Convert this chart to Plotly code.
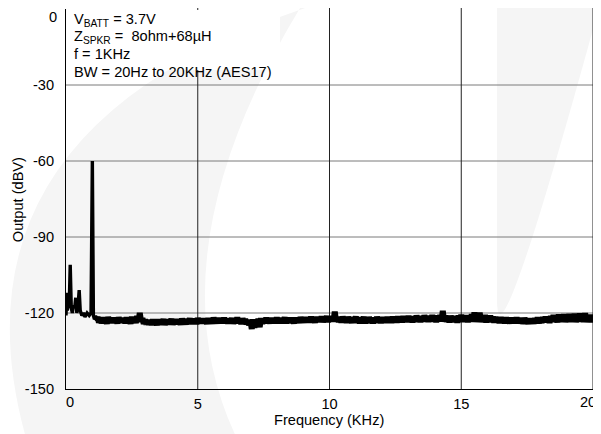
import plotly.graph_objects as go

# ---------------- data ----------------
freq_low = [0.00, 0.01, 0.03, 0.05, 0.08, 0.12, 0.16, 0.20, 0.24, 0.28, 0.33, 0.37, 0.41,
            0.45, 0.50, 0.54, 0.60, 0.66, 0.72, 0.80, 0.88, 0.95, 1.00, 1.04, 1.08, 1.12, 1.16]
out_low = [-121, -117, -112, -119, -116, -118, -101, -118, -120, -117, -118, -114, -120,
           -118, -111, -119, -121, -120, -121.5, -120, -121, -120, -60, -121, -122.5, -121, -123]

noise_start = 1.20
noise_step = 0.05
noise_rows = [
    [-121.5, -123.8, -122.0, -124.0, -121.8, -123.5, -122.3, -124.2, -121.6, -123.7, -122.1, -123.9, -121.9, -123.6, -122.4, -124.1, -121.7, -123.5, -122.2, -123.8],
    [-122.0, -124.0, -121.8, -123.6, -122.5, -124.2, -121.5, -123.7, -122.0, -123.9, -121.2, -123.5, -120.0, -123.4, -122.0, -124.3, -122.6, -124.5, -122.8, -124.6],
    [-122.9, -124.7, -122.6, -124.4, -123.0, -124.8, -122.5, -124.6, -122.8, -124.3, -122.4, -124.7, -122.9, -124.5, -122.6, -124.2, -122.3, -124.6, -122.7, -124.4],
    [-122.5, -124.3, -122.8, -124.6, -122.2, -124.1, -122.6, -124.5, -122.4, -124.0, -122.1, -124.3, -122.5, -124.2, -122.3, -124.4, -122.0, -124.1, -122.4, -124.0],
    [-122.2, -124.0, -122.6, -124.3, -122.0, -123.9, -122.4, -124.2, -121.8, -123.8, -122.3, -124.1, -122.0, -123.7, -122.5, -124.0, -121.9, -123.9, -122.2, -124.1],
    [-122.4, -123.8, -122.0, -124.2, -122.3, -123.9, -121.8, -124.0, -122.5, -124.3, -122.1, -123.8, -122.4, -124.5, -122.8, -124.8, -123.0, -126.3, -122.5, -125.8],
    [-122.6, -124.5, -122.3, -125.6, -122.0, -124.2, -122.4, -124.0, -121.9, -123.8, -122.3, -124.1, -122.0, -123.9, -122.5, -124.0, -121.8, -123.7, -122.2, -124.0],
    [-122.0, -123.8, -121.7, -124.0, -122.3, -123.9, -121.9, -123.6, -122.2, -124.1, -121.8, -123.7, -122.1, -123.9, -121.6, -123.5, -122.0, -123.8, -121.7, -123.6],
    [-121.9, -123.7, -121.5, -123.4, -122.0, -123.8, -121.6, -123.5, -121.9, -123.3, -121.4, -123.6, -121.8, -123.4, -121.2, -123.5, -121.6, -123.2, -121.3, -123.4],
    [-119.5, -123.3, -121.6, -123.5, -121.8, -123.7, -121.4, -123.4, -121.9, -123.8, -121.5, -123.6, -122.0, -123.9, -121.7, -123.5, -121.4, -123.8, -122.1, -124.0],
    [-121.8, -123.7, -121.5, -124.0, -122.2, -123.9, -121.6, -123.6, -121.9, -124.1, -122.0, -123.8, -121.5, -123.7, -121.8, -124.0, -121.6, -123.5, -121.9, -123.8],
    [-121.5, -123.6, -121.8, -123.9, -121.4, -123.5, -121.7, -123.8, -121.3, -123.4, -121.6, -123.7, -121.2, -123.5, -121.5, -123.6, -121.1, -123.4, -121.4, -123.7],
    [-121.3, -123.5, -121.0, -123.3, -121.5, -123.6, -121.2, -123.4, -120.9, -123.2, -121.4, -123.5, -121.1, -123.3, -120.8, -123.4, -121.2, -123.6, -121.0, -123.3],
    [-120.8, -123.2, -119.2, -123.4, -121.0, -123.5, -121.3, -123.7, -121.1, -123.3, -121.5, -123.6, -121.2, -123.8, -121.0, -123.4, -120.7, -123.5, -121.1, -123.3],
    [-120.9, -123.6, -121.2, -123.4, -120.5, -123.2, -119.8, -123.5, -120.9, -123.3, -119.9, -123.6, -121.2, -123.4, -120.8, -123.7, -121.3, -123.5, -121.0, -123.6],
    [-121.4, -123.8, -121.6, -123.5, -121.9, -123.9, -121.7, -123.6, -122.0, -124.0, -121.8, -123.7, -122.1, -124.1, -121.9, -123.8, -122.2, -124.0, -121.8, -123.9],
    [-122.0, -124.1, -122.3, -124.2, -121.9, -123.9, -122.4, -124.3, -122.1, -124.0, -122.5, -124.2, -122.0, -123.8, -121.8, -124.0, -122.2, -123.9, -121.6, -123.7],
    [-121.4, -123.6, -121.8, -123.9, -121.2, -123.5, -120.8, -123.4, -121.3, -123.7, -120.6, -123.3, -121.0, -123.5, -120.5, -123.6, -121.1, -123.4, -120.4, -123.5],
    [-120.9, -123.3, -120.3, -123.6, -121.0, -123.4, -120.2, -123.2, -120.8, -123.5, -120.1, -123.6, -121.0, -123.4, -120.7, -123.5, -122.0],
]

x_ticks = [0, 5, 10, 15, 20]
x_tick_labels = ["0", "5", "10", "15", "20"]
y_ticks = [0, -30, -60, -90, -120, -150]
y_tick_labels = ["0", "-30", "-60", "-90", "-120", "-150"]
x_grid = [5, 10, 15, 20]
y_grid = [-30, -60, -90, -120]

info_lines = [
    "V<sub>BATT</sub> = 3.7V",
    "Z<sub>SPKR</sub> =\u00a0 8ohm+68\u00b5H",
    "f = 1KHz",
    "BW = 20Hz to 20KHz (AES17)",
]
x_title = "Frequency (KHz)"
y_title = "Output (dBV)"

# ---------------- build series ----------------
noise_vals = [v for row in noise_rows for v in row]
noise_freq = [round(noise_start + noise_step * i, 3) for i in range(len(noise_vals))]

# ---------------- layout geometry (screen pixels; page body has an 8px margin) ----------------
OFF = 8
W, H = 601 - OFF, 434 - OFF
P_LEFT, P_RIGHT, P_TOP, P_BOTTOM = 66, 593, 9, 388.6   # plot area in screen pixels
ML = P_LEFT - OFF
MT = P_TOP - OFF
MR = W - (P_RIGHT - OFF)
MB = H - (P_BOTTOM - OFF)
PW = W - ML - MR
PH = H - MT - MB
FONT = "Liberation Sans, Arial, sans-serif"
FS = 14.6


def px(xs):
    return (xs - P_LEFT) / PW


def py(ys):
    return (P_BOTTOM - ys) / PH


def path(points_cmds):
    s = ""
    for cmd, pts in points_cmds:
        s += cmd + " " + " ".join(f"{px(a):.4f},{py(b):.4f}" for a, b in pts) + " "
    return s + "Z"


fig = go.Figure()
fig.add_trace(go.Scatter(x=freq_low + noise_freq[:1], y=out_low + noise_vals[:1], mode="lines",
                         line=dict(color="black", width=3.4), hoverinfo="skip"))
fig.add_trace(go.Scatter(x=freq_low[-1:] + noise_freq, y=out_low[-1:] + noise_vals, mode="lines",
                         line=dict(color="black", width=6), hoverinfo="skip"))

shapes = []
wm = "#f5f5f5"
shapes.append(dict(type="path", xref="paper", yref="paper", layer="below",
                   path=path([("M", [(330, 0)]), ("Q", [(-60, 120), (25, 434)]),
                              ("L", [(235, 434)]), ("Q", [(150, 250), (305, 0)])]),
                   fillcolor=wm, line=dict(width=0)))
shapes.append(dict(type="path", xref="paper", yref="paper", layer="below",
                   path=path([("M", [(497, 0)]), ("L", [(601, 0), (601, 434), (520, 434)]),
                              ("Q", [(497, 380), (497, 300)])]),
                   fillcolor=wm, line=dict(width=0)))
for g in y_grid:
    shapes.append(dict(type="line", xref="paper", yref="y", x0=0, x1=1, y0=g, y1=g,
                       layer="below", line=dict(color="#7a7a7a", width=1)))
for g in x_grid:
    shapes.append(dict(type="line", xref="x", yref="paper", x0=g, x1=g, y0=0, y1=1.005,
                       layer="below", line=dict(color="#222222", width=1)))
shapes.append(dict(type="rect", xref="paper", yref="paper", layer="between",
                   x0=px(67), x1=px(280), y0=py(70), y1=py(10),
                   fillcolor="white", line=dict(width=0)))

annotations = []
line_centers = [19.5, 37, 54, 72]
for t, c in zip(info_lines, line_centers):
    annotations.append(dict(text=t, xref="paper", yref="paper", x=px(72), y=py(c),
                            xanchor="left", yanchor="middle", showarrow=False,
                            font=dict(family=FONT, size=FS, color="black")))
annotations.append(dict(text=x_title, xref="paper", yref="paper", x=px(329), y=py(420),
                        xanchor="center", yanchor="middle", showarrow=False,
                        font=dict(family=FONT, size=FS, color="black")))
annotations.append(dict(text=y_title, xref="paper", yref="paper", x=px(18), y=py(200),
                        xanchor="center", yanchor="middle", textangle=-90, showarrow=False,
                        font=dict(family=FONT, size=FS, color="black")))

# end tick labels are nudged inward in the reference, so place them as annotations
x_tick_text_axis = [t if 0 < v < 20 else "" for v, t in zip(x_ticks, x_tick_labels)]
y_tick_text_axis = [t if v != 0 else "" for v, t in zip(y_ticks, y_tick_labels)]
annotations.append(dict(text=x_tick_labels[0], xref="paper", yref="paper", x=px(70), y=py(402),
                        xanchor="center", yanchor="middle", showarrow=False,
                        font=dict(family=FONT, size=FS, color="black")))
annotations.append(dict(text=x_tick_labels[-1], xref="paper", yref="paper", x=px(588), y=py(402),
                        xanchor="center", yanchor="middle", showarrow=False,
                        font=dict(family=FONT, size=FS, color="black")))
annotations.append(dict(text=y_tick_labels[0], xref="paper", yref="paper", x=px(58), y=py(8.2),
                        xanchor="right", yanchor="top", showarrow=False, borderpad=0,
                        font=dict(family=FONT, size=FS, color="black")))

fig.update_layout(
    width=W, height=H,
    margin=dict(l=ML, r=MR, t=MT, b=MB, pad=0, autoexpand=False),
    paper_bgcolor="white", plot_bgcolor="rgba(0,0,0,0)",
    showlegend=False,
    shapes=shapes, annotations=annotations,
    font=dict(family=FONT, size=FS, color="black"),
    xaxis=dict(range=[0, 20], tickvals=x_ticks, ticktext=x_tick_text_axis, showgrid=False,
               zeroline=False, showline=True, linecolor="black", linewidth=1,
               ticks="", ticklabelstandoff=1, automargin=False, ticklabeloverflow="allow",
               tickfont=dict(size=FS)),
    yaxis=dict(range=[-150, 0], tickvals=y_ticks, ticktext=y_tick_text_axis, showgrid=False,
               zeroline=False, showline=True, linecolor="black", linewidth=1,
               ticks="", ticklabelstandoff=8, automargin=False, ticklabeloverflow="allow",
               tickfont=dict(size=FS)),
)

fig.write_html("out.html")
